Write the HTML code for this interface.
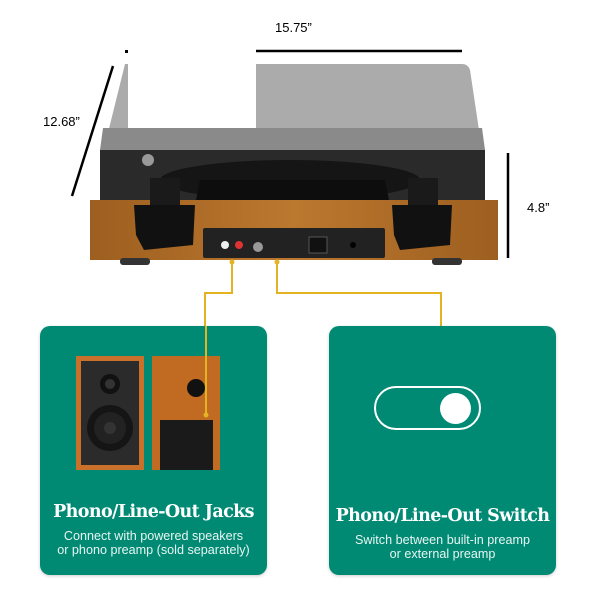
<!DOCTYPE html>
<html><head><style>
body{margin:0;background:#fff;width:600px;height:600px;position:relative;overflow:hidden;font-family:"Liberation Sans",sans-serif}
.a{position:absolute}
.card{position:absolute;background:#008a74;border-radius:10px;box-shadow:0 1px 3px rgba(0,0,0,.2);color:#fff;text-align:center}
.t{font-family:"DejaVu Serif","Liberation Serif",serif;font-weight:bold;font-size:17.5px;position:absolute;left:0;right:0;letter-spacing:-0.6px}
.s{font-size:12.6px;position:absolute;left:0;right:0;line-height:14px;color:#e8f5f2}
</style></head><body>
<svg class="a" style="left:0;top:0" width="600" height="600">
<defs><linearGradient id="g" x1="0" x2="1"><stop offset="0" stop-color="#7a4210"/><stop offset=".5" stop-color="#d08a3a"/><stop offset="1" stop-color="#7a4210"/></linearGradient></defs>
<!-- lid -->
<path d="M125 64 L462 64 Q468 64 470 70 L485 170 L485 205 L100 205 L100 165 Z" fill="#ababab"/>
<path d="M100 150 L485 150 L485 205 L100 205 Z" fill="#2a2a2a"/>
<path d="M100 150 L485 150 L482 128 L103 128 Z" fill="#8a8a8a"/>
<ellipse cx="290" cy="180" rx="130" ry="20" fill="#151515"/>
<path d="M195 205 L200 180 L385 180 L390 205Z" fill="#0d0d0d"/>
<circle cx="148" cy="160" r="6" fill="#999"/>
<!-- base -->
<rect x="90" y="200" width="408" height="60" fill="#b06e28"/>
<rect x="90" y="200" width="408" height="60" fill="url(#g)" opacity=".35"/>
<rect x="120" y="258" width="30" height="7" rx="3" fill="#333"/>
<rect x="432" y="258" width="30" height="7" rx="3" fill="#333"/>
<!-- hinges -->
<rect x="150" y="178" width="30" height="30" fill="#1a1a1a"/>
<path d="M134 205 L195 205 L193 245 L144 250 L136 235Z" fill="#111"/>
<rect x="408" y="178" width="30" height="30" fill="#1a1a1a"/>
<path d="M392 205 L452 205 L450 245 L400 250 L394 235Z" fill="#111"/>
<!-- panel -->
<rect x="203" y="228" width="182" height="30" rx="2" fill="#222"/>
<circle cx="225" cy="245" r="4" fill="#eee"/><circle cx="239" cy="245" r="4" fill="#d33"/>
<circle cx="258" cy="247" r="5" fill="#999"/>
<rect x="309" y="237" width="18" height="16" fill="#111" stroke="#555"/>
<circle cx="353" cy="245" r="3" fill="#000"/>
<!-- white patch -->
<rect x="128" y="56" width="128" height="72" fill="#fff"/>
<!-- dimension lines -->
<line x1="256" y1="51" x2="462" y2="51" stroke="#000" stroke-width="2.5"/>
<rect x="125" y="50" width="3" height="3" fill="#000"/>
<line x1="113" y1="66" x2="72" y2="196" stroke="#000" stroke-width="2.5"/>
<line x1="508" y1="153" x2="508" y2="258" stroke="#000" stroke-width="2.5"/>
<!-- connectors -->
<polyline points="232,262 232,293 205,293 205,330" fill="none" stroke="#e3b322" stroke-width="2"/>
<polyline points="277,262 277,293 441,293 441,330" fill="none" stroke="#e3b322" stroke-width="2"/>
<circle cx="232" cy="262" r="2.5" fill="#e3b322"/><circle cx="277" cy="262" r="2.5" fill="#e3b322"/>
</svg>
<div class="a" style="left:275px;top:20px;font-size:13px">15.75”</div>
<div class="a" style="left:43px;top:114px;font-size:13px">12.68”</div>
<div class="a" style="left:527px;top:200px;font-size:13px">4.8”</div>

<div class="card" style="left:40px;top:326px;width:227px;height:249px">
<svg class="a" style="left:0;top:0" width="227" height="249">
<rect x="36" y="30" width="68" height="114" fill="#c9702a"/>
<rect x="41" y="35" width="58" height="104" fill="#2b2b2b"/>
<circle cx="70" cy="58" r="10" fill="#111"/><circle cx="70" cy="58" r="5" fill="#333"/>
<circle cx="70" cy="102" r="23" fill="#151515"/><circle cx="70" cy="102" r="16" fill="#222"/><circle cx="70" cy="102" r="6" fill="#333"/>
<rect x="112" y="30" width="68" height="114" fill="#c06a22"/>
<circle cx="156" cy="62" r="9" fill="#111"/>
<rect x="120" y="94" width="53" height="50" fill="#1a1a1a"/>
<line x1="166" y1="0" x2="166" y2="88" stroke="#e3b322" stroke-width="2"/>
<circle cx="166" cy="89" r="2.5" fill="#e3b322"/>
</svg>
<div class="t" style="top:176px">Phono/Line-Out Jacks</div>
<div class="s" style="top:203px">Connect with powered speakers<br>or phono preamp (sold separately)</div>
</div>

<div class="card" style="left:329px;top:326px;width:227px;height:249px">
<div class="a" style="left:45px;top:60px;width:103px;height:40px;border:2.5px solid #fff;border-radius:24px"></div>
<div class="a" style="left:111px;top:67px;width:31px;height:31px;border-radius:50%;background:#fff"></div>
<div class="t" style="top:180px">Phono/Line-Out Switch</div>
<div class="s" style="top:207px">Switch between built-in preamp<br>or external preamp</div>
</div>
</body></html>
